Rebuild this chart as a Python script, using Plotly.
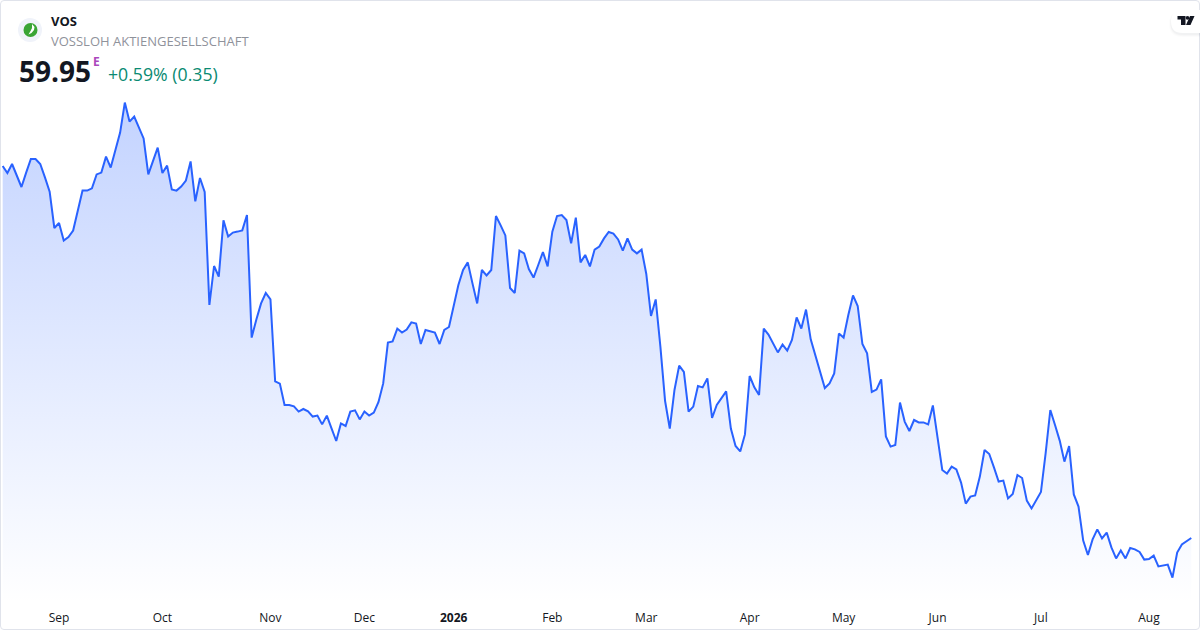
import pandas as pd
import plotly.graph_objects as go

symbol = 'VOS'
company = 'VOSSLOH AKTIENGESELLSCHAFT'
last_price = '59.95'
change_text = '+0.59% (0.35)'

holidays = ['2025-12-24', '2025-12-25', '2025-12-26', '2025-12-31', '2026-01-01',
            '2026-04-03', '2026-04-06', '2026-05-01']

prices = [
    78.55, 78.20, 78.65, 78.08, 77.50, 78.22, 78.90, 78.90, 78.65, 77.98,
    77.27, 75.45, 75.70, 74.82, 75.00, 75.32, 76.35, 77.32, 77.32, 77.43,
    78.13, 78.22, 79.02, 78.47, 79.35, 80.22, 81.72, 80.77, 81.02, 80.47,
    79.93, 78.13, 78.80, 79.47, 78.20, 78.57, 77.38, 77.32, 77.52, 77.82,
    78.78, 76.78, 77.95, 77.25, 71.60, 73.55, 73.02, 75.83, 75.02, 75.22,
    75.27, 75.33, 76.10, 69.97, 70.88, 71.68, 72.20, 71.88, 67.78, 67.67,
    66.60, 66.60, 66.53, 66.27, 66.40, 66.28, 66.02, 66.07, 65.63, 66.07,
    65.43, 64.80, 65.68, 65.55, 66.27, 66.33, 65.88, 66.27, 66.07, 66.22,
    66.75, 67.68, 69.72, 69.78, 70.42, 70.22, 70.37, 70.73, 70.67, 69.65,
    70.35, 70.28, 70.22, 69.65, 70.35, 70.50, 71.55, 72.60, 73.35, 73.73,
    72.68, 71.68, 73.35, 73.08, 73.35, 76.05, 75.58, 75.08, 72.45, 72.20,
    74.32, 74.18, 73.40, 72.97, 73.60, 74.25, 73.53, 75.27, 76.05, 76.10,
    75.85, 74.68, 75.97, 73.73, 74.10, 73.53, 74.37, 74.52, 74.93, 75.25,
    75.17, 74.88, 74.32, 74.93, 74.37, 74.18, 74.37, 73.15, 71.05, 71.88,
    69.52, 66.80, 65.42, 67.35, 68.57, 68.25, 66.27, 66.52, 67.55, 67.48,
    67.93, 65.95, 66.60, 66.92, 67.28, 65.42, 64.55, 64.28, 65.13, 68.05,
    67.48, 67.10, 70.42, 70.12, 69.68, 69.23, 69.62, 69.32, 69.85, 70.98,
    70.42, 71.37, 69.88, 69.10, 68.27, 67.45, 67.68, 68.18, 70.17, 69.97,
    71.10, 72.08, 71.55, 69.65, 69.18, 67.25, 67.37, 67.88, 65.03, 64.52,
    64.60, 66.72, 65.77, 65.30, 65.85, 65.73, 65.73, 65.63, 66.58, 65.02,
    63.35, 63.17, 63.52, 63.38, 62.72, 61.67, 62.02, 62.08, 63.02, 64.35,
    64.15, 63.48, 62.77, 62.82, 61.93, 62.15, 63.10, 62.95, 61.82, 61.43,
    61.85, 62.25, 64.18, 66.35, 65.60, 64.82, 63.77, 64.55, 62.13, 61.52,
    59.82, 59.10, 59.88, 60.38, 59.93, 60.22, 59.48, 58.93, 59.33, 58.93,
    59.45, 59.38, 59.25, 58.87, 58.90, 59.07, 58.53, 58.57, 58.62, 57.97,
    59.22, 59.63, 59.77, 59.95,
]

tick_dates = ['2025-09-01', '2025-10-01', '2025-11-03', '2025-12-01', '2026-01-02', '2026-02-02',
              '2026-03-02', '2026-04-01', '2026-05-04', '2026-06-01', '2026-07-01', '2026-08-03']
tick_labels = ['Sep', 'Oct', 'Nov', 'Dec', '<b>2026</b>', 'Feb', 'Mar', 'Apr', 'May', 'Jun', 'Jul', 'Aug']

days = pd.bdate_range('2025-08-14', '2026-08-14')
days = [d.strftime('%Y-%m-%d') for d in days if d.strftime('%Y-%m-%d') not in holidays]

W, H = 1200, 630
PLOT_H = 604
FONT = 'Open Sans'
y_top, y_bottom = 86.85, 86.85 - 0.05 * PLOT_H


def px(x):
    return x / W


def py(y):
    return (PLOT_H - y) / PLOT_H


def path(points, close=True):
    s = 'M' + ' L'.join(f'{px(x):.5f},{py(y):.5f}' for x, y in points)
    return s + (' Z' if close else '')


def circle(cx, cy, r, color):
    return dict(type='circle', xref='paper', yref='paper', x0=px(cx - r), x1=px(cx + r),
                y0=py(cy + r), y1=py(cy - r), fillcolor=color, line_width=0)


def pill(x, y0, y1, color):
    r = (y1 - y0) / 2
    s = (f'M{px(W)},{py(y0)} L{px(x + r)},{py(y0)} '
         f'Q{px(x)},{py(y0)} {px(x)},{py(y0 + r)} '
         f'Q{px(x)},{py(y1)} {px(x + r)},{py(y1)} L{px(W)},{py(y1)} Z')
    return dict(type='path', xref='paper', yref='paper', path=s, fillcolor=color, line_width=0)


def text(x, y, s, size, color, weight=400):
    return dict(x=px(x), y=py(y), xref='paper', yref='paper', text=s, showarrow=False,
                xanchor='left', yanchor='middle', align='left',
                font=dict(family=FONT, size=size, color=color, weight=weight))


fig = go.Figure()
fig.add_trace(go.Scatter(
    x=days, y=prices, mode='lines', fill='tozeroy', hoverinfo='skip',
    line=dict(color='#2962ff', width=2),
    fillgradient=dict(type='vertical', start=y_top - 0.05 * 100, stop=y_bottom,
                      colorscale=[[0, 'rgba(41,98,255,0.28)'], [1, 'rgba(41,98,255,0)']]),
))

shapes = [
    # card border
    dict(type='path', xref='paper', yref='paper', line=dict(color='#e0e3eb', width=1),
         path=(f'M{px(4)},{py(0.5)} L{px(1196)},{py(0.5)} Q{px(1199.5)},{py(0.5)} {px(1199.5)},{py(4)} '
               f'L{px(1199.5)},{py(626)} Q{px(1199.5)},{py(629.5)} {px(1196)},{py(629.5)} '
               f'L{px(4)},{py(629.5)} Q{px(0.5)},{py(629.5)} {px(0.5)},{py(626)} '
               f'L{px(0.5)},{py(4)} Q{px(0.5)},{py(0.5)} {px(4)},{py(0.5)} Z')),
    # company logo
    circle(30, 30, 12, '#f0f3fa'),
    circle(30.5, 30, 7, '#3aa535'),
    dict(type='path', xref='paper', yref='paper', fillcolor='#ffffff', line_width=0,
         path=path([(32, 24), (34.5, 27), (34, 30), (31.5, 33), (28.5, 34.5), (30.5, 31), (32, 28)])),
    # tradingview badge, soft shadow mostly below it
    pill(1169, 11, 37, 'rgba(19,23,34,0.012)'),
    pill(1170, 11, 36, 'rgba(19,23,34,0.018)'),
    pill(1170.5, 11, 35, 'rgba(19,23,34,0.022)'),
    pill(1171, 10, 33, '#ffffff'),
    dict(type='path', xref='paper', yref='paper', fillcolor='#131722', line_width=0,
         path=path([(1177.5, 16), (1185.5, 16), (1185.5, 25), (1181, 25), (1181, 19.5), (1177.5, 19.5)])),
    circle(1187.5, 17.8, 1.9, '#131722'),
    dict(type='path', xref='paper', yref='paper', fillcolor='#131722', line_width=0,
         path=path([(1190, 16), (1194.5, 16), (1190.5, 25), (1186, 25)])),
]

annotations = [
    text(49, 21, symbol, 13, '#131722', 700),
    text(49, 41, company, 13, '#8f929b'),
    text(17, 71, last_price, 28, '#131722', 700),
    text(91, 61, 'E', 12, '#ab47bc', 700),
    text(106, 74, change_text, 17.7, '#0a8a72'),
]

fig.update_layout(
    width=W, height=H, autosize=False,
    margin=dict(l=0, r=0, t=0, b=H - PLOT_H),
    paper_bgcolor='white', plot_bgcolor='white',
    showlegend=False, shapes=shapes, annotations=annotations,
    font=dict(family=FONT, size=12, color='#131722'),
    xaxis=dict(type='category', range=[-0.568, 254.86], tickmode='array', tickvals=tick_dates,
               ticktext=tick_labels, showgrid=False, zeroline=False, showline=False, ticks='',
               ticklabelstandoff=5, tickfont=dict(family=FONT, size=12, color='#131722')),
    yaxis=dict(range=[y_bottom, y_top], showgrid=False, zeroline=False, showline=False,
               showticklabels=False, ticks=''),
)

# the browser's default body margin would shift the whole card by 8px
fig.write_html('out.html', config=dict(displayModeBar=False),
               post_script="document.body.style.margin='0';document.body.style.overflow='hidden';")
